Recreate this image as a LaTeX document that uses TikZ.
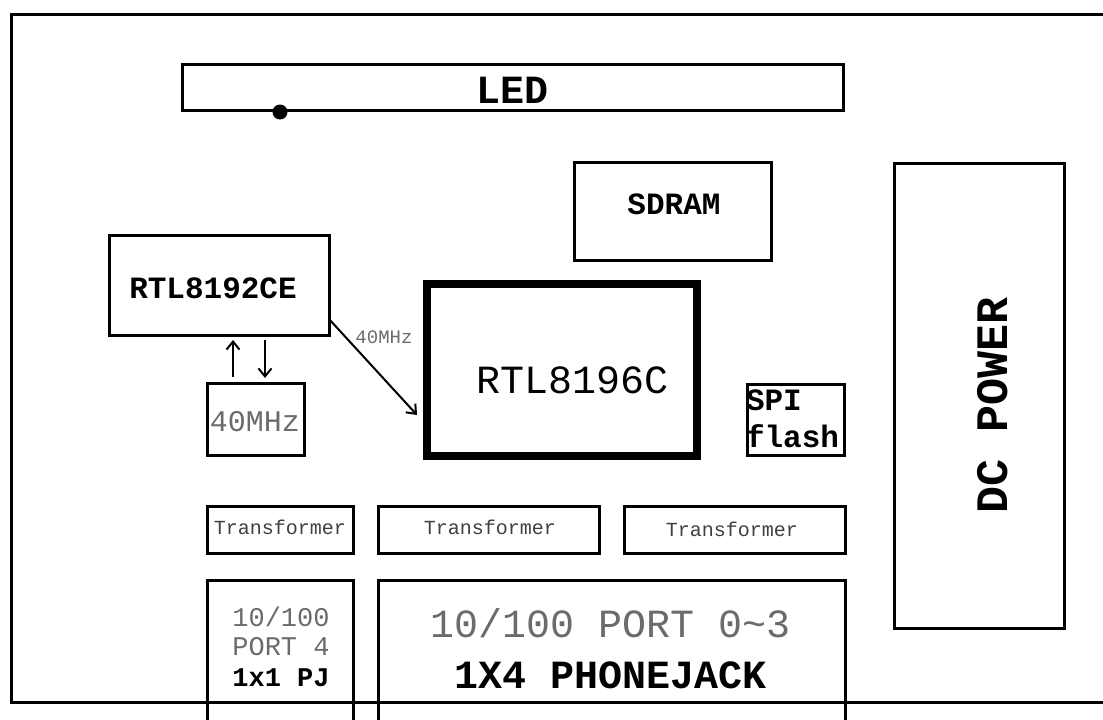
\documentclass[tikz,border=0pt]{standalone}
\usepackage{fontspec}
\setmainfont{Liberation Mono}
\usetikzlibrary{arrows.meta,calc}
\definecolor{txtgray}{gray}{0.42}
\definecolor{txtdark}{gray}{0.25}
\tikzset{
  box/.style={draw, line width=3pt, inner sep=0pt, outer sep=0pt},
  chipbox/.style={draw, line width=8pt, inner sep=0pt, outer sep=0pt},
  lbl/.style={inner sep=0pt, outer sep=0pt},
  arr/.style={line width=2pt, -{Straight Barb[length=8pt,width=13pt,line width=2pt]}},
  fsz/.style={font=\fontsize{#1}{#1}\selectfont},
  bsz/.style={font=\fontsize{#1}{#1}\selectfont\bfseries},
}
\begin{document}
\begin{tikzpicture}[x=1pt,y=-1pt]
\useasboundingbox[fill=white] (0,0) rectangle (1103,720);
% board outline
\draw[line width=3pt] (1103,14) -- (11,14) -- (11,702) -- (1103,702);
% boxes
\node[box, minimum width=661pt, minimum height=46pt] (led) at (512.5,87) {};
\node[box, minimum width=197pt, minimum height=98pt] (sdram) at (672.5,211) {};
\node[box, minimum width=170pt, minimum height=465pt] (dc) at (979,395.5) {};
\node[box, minimum width=220pt, minimum height=100pt] (rtlce) at (219,285) {};
\node[box, minimum width=97pt, minimum height=72pt] (xtal) at (255.5,419) {};
\node[chipbox, minimum width=270pt, minimum height=172pt] (soc) at (562,370) {};
\node[box, minimum width=97pt, minimum height=71pt] (spi) at (795.5,419.5) {};
\node[box, minimum width=146pt, minimum height=47pt] (t1) at (280,529.5) {};
\node[box, minimum width=221pt, minimum height=47pt] (t2) at (488.5,529.5) {};
\node[box, minimum width=221pt, minimum height=47pt] (t3) at (734.5,529.5) {};
% port boxes (open at bottom)
\draw[line width=3pt] (207,722) -- (207,580) -- (353,580) -- (353,722);
\draw[line width=3pt] (378,722) -- (378,580) -- (845,580) -- (845,722);
% LED dot
\fill (280,112) circle (7.5pt);
% texts
\node[lbl, bsz=40] (ledt) at (513,90) {LED};
\node[lbl, bsz=31] (sdramt) at (674,204) {SDRAM};
\node[lbl, bsz=31] (rtlcet) at (213,288) {RTL8192CE};
\node[lbl, fsz=30, text=txtgray] (xtalt) at (255,422) {40MHz};
\node[lbl, fsz=40] (soct) at (573,380) {RTL8196C};
\node[lbl, anchor=west, align=left, font=\fontsize{31}{37}\selectfont\bfseries] (spit) at (746,419) {SPI\\flash};
\node[lbl, bsz=45, rotate=90] (dct) at (993,405) {DC POWER};
\node[lbl, fsz=20, text=txtdark] (t1t) at (280,527) {Transformer};
\node[lbl, fsz=20, text=txtdark] (t2t) at (490,527) {Transformer};
\node[lbl, fsz=20, text=txtdark] (t3t) at (732,529) {Transformer};
\node[lbl, fsz=27, text=txtgray] (p4a) at (281,617) {10/100};
\node[lbl, fsz=27, text=txtgray] (p4b) at (281,647) {PORT 4};
\node[lbl, bsz=27] (p4c) at (281,678) {1x1 PJ};
\node[lbl, fsz=40, text=txtgray] (p03a) at (611,623) {10/100 PORT 0\textasciitilde3};
\node[lbl, bsz=40] (p03b) at (611,675) {1X4 PHONEJACK};
\node[lbl, fsz=19, text=txtgray] (mhz) at (384,337) {40MHz};
% connectors
\coordinate (ux) at (233,0);
\coordinate (dx) at (265,0);
\draw[arr, shorten <=6pt, shorten >=5pt] (xtal.north -| ux) -- (rtlce.south -| ux);
\draw[arr, shorten <=5pt, shorten >=5pt] (rtlce.south -| dx) -- (xtal.north -| dx);
\draw[arr] ($(rtlce.south east)+(0,-16)$) -- ($(soc.west)+(-10,45)$);
\end{tikzpicture}
\end{document}
